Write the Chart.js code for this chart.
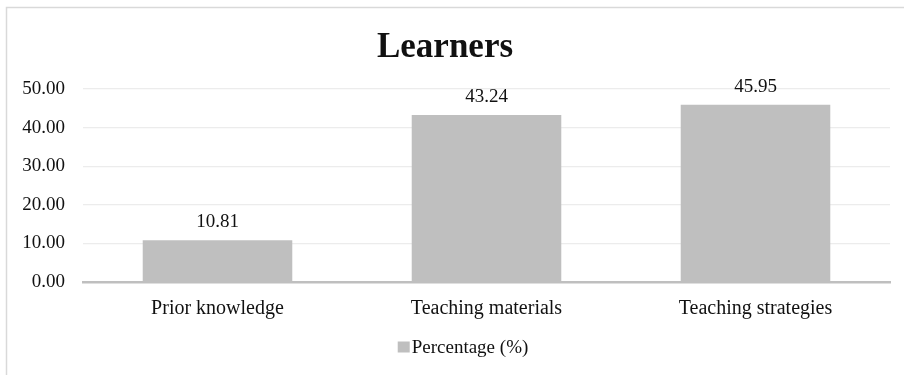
<!DOCTYPE html>
<html>
<head>
<meta charset="utf-8">
<title>Learners</title>
<script src="https://cdn.jsdelivr.net/npm/chart.js@4"></script>
<style>
  html, body { margin: 0; padding: 0; background: #fff; }
  #wrap { width: 904px; height: 375px; }
</style>
</head>
<body>
<div id="wrap"><canvas id="chartLearners" width="904" height="375"></canvas></div>
<script>
const categorias = ["Prior knowledge", "Teaching materials", "Teaching strategies"];
const porcentajes = [10.81, 43.24, 45.95];
const ticksY = [0, 10, 20, 30, 40, 50];
const serieNombre = "Percentage (%)";

const SERIF = "'Liberation Serif', 'Times New Roman', serif";
const TEXTO = "#111111";
const GRIS_BARRA = "#bfbfbf";

// marco gris claro arriba y a la izquierda
const marcoPlugin = {
    id: "marco",
    beforeDraw(chart) {
        const ctx = chart.ctx;
        ctx.save();
        ctx.fillStyle = "#ffffff";
        ctx.fillRect(0, 0, chart.width, chart.height);
        ctx.strokeStyle = "#d9d9d9";
        ctx.lineWidth = 1.5;
        ctx.beginPath();
        ctx.moveTo(6.5, chart.height);
        ctx.lineTo(6.5, 7.5);
        ctx.lineTo(chart.width, 7.5);
        ctx.stroke();
        ctx.restore();
    },
};

// valor encima de cada barra
const etiquetasPlugin = {
    id: "etiquetas",
    afterDatasetsDraw(chart) {
        const ctx = chart.ctx;
        ctx.save();
        ctx.font = "19px " + SERIF;
        ctx.fillStyle = TEXTO;
        ctx.textAlign = "center";
        ctx.textBaseline = "alphabetic";
        chart.getDatasetMeta(0).data.forEach((bar, i) => {
            const valor = chart.data.datasets[0].data[i];
            ctx.fillText(valor.toFixed(2), bar.x, bar.y - 13);
        });
        ctx.restore();
    },
};

// leyenda abajo, cuadro pegado al texto
const leyendaPlugin = {
    id: "leyenda",
    afterDraw(chart) {
        const ctx = chart.ctx;
        const ds = chart.data.datasets[0];
        ctx.save();
        ctx.font = "19px " + SERIF;
        const ancho = 12 + 2 + ctx.measureText(ds.label).width;
        const x0 = chart.width / 2 + 11 - ancho / 2;
        const y = 347;
        ctx.fillStyle = ds.backgroundColor;
        ctx.fillRect(x0, y - 5.5, 12, 11);
        ctx.fillStyle = TEXTO;
        ctx.textAlign = "left";
        ctx.textBaseline = "middle";
        ctx.fillText(ds.label, x0 + 14, y + 1);
        ctx.restore();
    },
};

const dataLearners = {
    labels: categorias,
    datasets: [
        {
            label: serieNombre,
            data: porcentajes,
            backgroundColor: GRIS_BARRA,
            borderWidth: 0,
            barPercentage: 0.556,
            categoryPercentage: 1,
        },
    ],
};

const configLearners = {
    type: "bar",
    data: dataLearners,
    options: {
        responsive: false,
        animation: false,
        layout: {
            padding: { left: 0, right: 14, top: 0, bottom: 39 },
        },
        plugins: {
            legend: { display: false },
            tooltip: { enabled: false },
            title: {
                display: true,
                text: "Learners",
                color: TEXTO,
                font: { family: SERIF, size: 35, weight: "bold", lineHeight: 1.2 },
                padding: { top: 27, bottom: 20 },
            },
        },
        scales: {
            x: {
                grid: { display: false, drawTicks: false },
                border: { display: true, color: GRIS_BARRA, width: 2.5 },
                ticks: {
                    color: TEXTO,
                    padding: 15,
                    font: { family: SERIF, size: 20 },
                },
            },
            y: {
                min: 0,
                max: 50,
                afterFit(scale) {
                    scale.width = 83;
                },
                afterBuildTicks(scale) {
                    scale.ticks = ticksY.map((v) => ({ value: v }));
                },
                grid: {
                    color: (c) => (c.tick && c.tick.value === 0 ? "rgba(0,0,0,0)" : "#ececec"),
                    lineWidth: 1.2,
                    drawTicks: false,
                },
                border: { display: false },
                ticks: {
                    color: TEXTO,
                    padding: 18,
                    font: { family: SERIF, size: 19 },
                    callback: (v) => Number(v).toFixed(2),
                },
            },
        },
    },
    plugins: [marcoPlugin, etiquetasPlugin, leyendaPlugin],
};

new Chart(document.getElementById("chartLearners"), configLearners);
</script>
</body>
</html>
